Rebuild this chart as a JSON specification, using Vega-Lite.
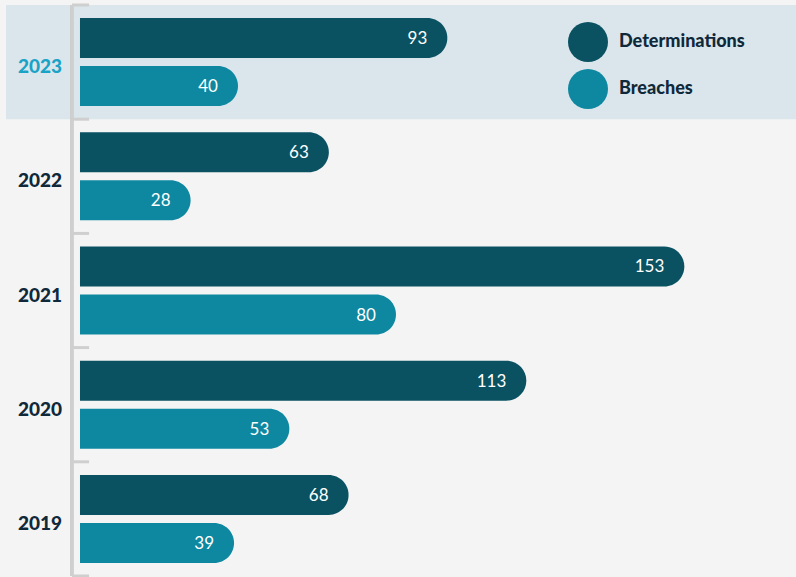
{
  "$schema": "https://vega.github.io/schema/vega-lite/v6.json",
  "width": 790,
  "height": 571,
  "padding": {"left": 6, "top": 5, "right": 0, "bottom": 1},
  "autosize": {"type": "none"},
  "background": "#f4f4f4",
  "config": {"view": {"stroke": null}, "font": "Lato"},
  "data": {
    "values": [
      {"year": "2023", "series": "Determinations", "value": 93},
      {"year": "2023", "series": "Breaches", "value": 40},
      {"year": "2022", "series": "Determinations", "value": 63},
      {"year": "2022", "series": "Breaches", "value": 28},
      {"year": "2021", "series": "Determinations", "value": 153},
      {"year": "2021", "series": "Breaches", "value": 80},
      {"year": "2020", "series": "Determinations", "value": 113},
      {"year": "2020", "series": "Breaches", "value": 53},
      {"year": "2019", "series": "Determinations", "value": 68},
      {"year": "2019", "series": "Breaches", "value": 39}
    ]
  },
  "encoding": {
    "y": {
      "field": "year", "type": "nominal",
      "sort": ["2023", "2022", "2021", "2020", "2019"],
      "scale": {"padding": 0},
      "axis": null
    }
  },
  "resolve": {"scale": {"x": "shared", "y": "shared"}},
  "layer": [
    {
      "transform": [{"filter": "datum.year == '2023' && datum.series == 'Determinations'"}],
      "mark": {"type": "bar", "color": "#dae6ec"},
      "encoding": {
        "x": {"datum": -18.73, "type": "quantitative", "scale": {"domain": [-18.73, 181.27], "nice": false, "zero": false}, "axis": null},
        "x2": {"datum": 181.27}
      }
    },
    {
      "mark": {"type": "rule", "color": "#cfcfcf", "strokeWidth": 2.5},
      "encoding": {
        "y": null,
        "x": {"datum": -2.03, "type": "quantitative"}
      }
    },
    {
      "transform": [{"filter": "datum.series == 'Determinations'"}],
      "mark": {"type": "rule", "color": "#cfcfcf", "strokeWidth": 3},
      "encoding": {
        "y": {"field": "year", "type": "nominal", "sort": ["2023", "2022", "2021", "2020", "2019"], "bandPosition": 0},
        "x": {"datum": -2.03, "type": "quantitative"},
        "x2": {"datum": 2.3}
      }
    },
    {
      "transform": [{"filter": "datum.series == 'Determinations' && datum.year == '2019'"}],
      "mark": {"type": "rule", "color": "#cfcfcf", "strokeWidth": 3},
      "encoding": {
        "y": {"field": "year", "type": "nominal", "sort": ["2023", "2022", "2021", "2020", "2019"], "bandPosition": 1},
        "x": {"datum": -2.03, "type": "quantitative"},
        "x2": {"datum": 2.3}
      }
    },
    {
      "mark": {"type": "bar", "cornerRadiusEnd": 20},
      "encoding": {
        "x": {"field": "value", "type": "quantitative", "stack": null},
        "yOffset": {"field": "series", "type": "nominal", "sort": ["Determinations", "Breaches"], "scale": {"paddingInner": 0.1667, "paddingOuter": 0.2728}},
        "color": {
          "field": "series", "type": "nominal",
          "sort": ["Determinations", "Breaches"],
          "scale": {"domain": ["Determinations", "Breaches"], "range": ["#0a5262", "#0e88a0"]},
          "legend": {
            "title": null,
            "orient": "none",
            "legendX": 562,
            "legendY": 17,
            "symbolType": "circle",
            "symbolSize": 1600,
            "symbolStrokeWidth": 0,
            "symbolOpacity": 1,
            "labelOffset": 11,
            "labelFont": "Lato",
            "labelFontSize": 18,
            "labelFontWeight": 900,
            "labelColor": "#10293a",
            "rowPadding": 7,
            "padding": 0
          }
        }
      }
    },
    {
      "mark": {"type": "text", "align": "right", "baseline": "middle", "dx": -20, "dy": 1, "color": "#ffffff", "fontSize": 17, "font": "Lato"},
      "encoding": {
        "x": {"field": "value", "type": "quantitative"},
        "yOffset": {"field": "series", "type": "nominal", "sort": ["Determinations", "Breaches"]},
        "text": {"field": "value", "type": "quantitative"}
      }
    },
    {
      "transform": [{"filter": "datum.series == 'Determinations'"}],
      "mark": {"type": "text", "align": "right", "baseline": "middle", "fontSize": 19, "fontWeight": 900, "font": "Lato", "dy": 5},
      "encoding": {
        "x": {"datum": -4.56, "type": "quantitative"},
        "text": {"field": "year", "type": "nominal"},
        "color": {
          "condition": {"test": "datum.year == '2023'", "value": "#1aa3c6"},
          "value": "#10293a"
        }
      }
    }
  ]
}
